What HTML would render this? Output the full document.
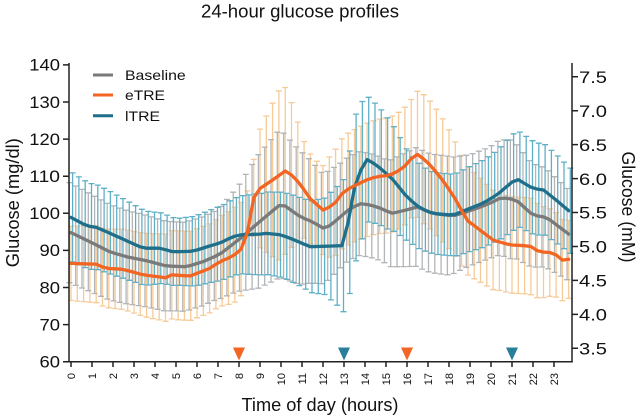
<!DOCTYPE html>
<html><head><meta charset="utf-8">
<style>
html,body{margin:0;padding:0;background:#fff}
svg{display:block}
text{font-family:"Liberation Sans",Arial,sans-serif;fill:#111}
</style></head>
<body>
<svg id="s" width="642" height="420" viewBox="0 0 642 420" xmlns="http://www.w3.org/2000/svg">
<rect width="642" height="420" fill="#fff"/>
<text x="300" y="17.5" font-size="18" text-anchor="middle" textLength="198" lengthAdjust="spacingAndGlyphs">24-hour glucose profiles</text>

<g id="bars"></g>
<g id="lines"></g>

<!-- axes -->
<g stroke="#222" stroke-width="1.5" fill="none">
<line x1="69" y1="63" x2="69" y2="362.4"/>
<line x1="68.3" y1="361.7" x2="572.7" y2="361.7"/>
<line x1="572" y1="63" x2="572" y2="362.4"/>
<!-- left ticks -->
<path d="M63 361.7H69M63 324.6H69M63 287.5H69M63 250.4H69M63 213.3H69M63 176.2H69M63 139.1H69M63 102H69M63 64.9H69"/>
<!-- right ticks -->
<path d="M572 348.3H578M572 314.4H578M572 280.4H578M572 246.5H578M572 212.5H578M572 178.6H578M572 144.6H578M572 110.7H578M572 76.7H578"/>
<!-- x ticks -->
<path d="M71 361.7V367M92 361.7V367M113 361.7V367M134 361.7V367M155 361.7V367M176 361.7V367M197 361.7V367M218 361.7V367M239 361.7V367M260 361.7V367M281 361.7V367M302 361.7V367M323 361.7V367M344 361.7V367M365 361.7V367M386 361.7V367M407 361.7V367M428 361.7V367M449 361.7V367M470 361.7V367M491 361.7V367M512 361.7V367M533 361.7V367M554 361.7V367"/>
</g>

<!-- left tick labels -->
<g font-size="17" text-anchor="end">
<text x="60" y="367.5" textLength="20.5" lengthAdjust="spacingAndGlyphs">60</text>
<text x="60" y="330.4" textLength="20.5" lengthAdjust="spacingAndGlyphs">70</text>
<text x="60" y="293.3" textLength="20.5" lengthAdjust="spacingAndGlyphs">80</text>
<text x="60" y="256.2" textLength="20.5" lengthAdjust="spacingAndGlyphs">90</text>
<text x="60" y="219.1" textLength="30.7" lengthAdjust="spacingAndGlyphs">100</text>
<text x="60" y="182" textLength="30.7" lengthAdjust="spacingAndGlyphs">110</text>
<text x="60" y="144.9" textLength="30.7" lengthAdjust="spacingAndGlyphs">120</text>
<text x="60" y="107.8" textLength="30.7" lengthAdjust="spacingAndGlyphs">130</text>
<text x="60" y="70.7" textLength="30.7" lengthAdjust="spacingAndGlyphs">140</text>
</g>

<!-- right tick labels -->
<g font-size="17">
<text x="579" y="354.5" textLength="28" lengthAdjust="spacingAndGlyphs">3.5</text>
<text x="579" y="320.6" textLength="28" lengthAdjust="spacingAndGlyphs">4.0</text>
<text x="579" y="286.6" textLength="28" lengthAdjust="spacingAndGlyphs">4.5</text>
<text x="579" y="252.7" textLength="28" lengthAdjust="spacingAndGlyphs">5.0</text>
<text x="579" y="218.7" textLength="28" lengthAdjust="spacingAndGlyphs">5.5</text>
<text x="579" y="184.8" textLength="28" lengthAdjust="spacingAndGlyphs">6.0</text>
<text x="579" y="150.8" textLength="28" lengthAdjust="spacingAndGlyphs">6.5</text>
<text x="579" y="116.9" textLength="28" lengthAdjust="spacingAndGlyphs">7.0</text>
<text x="579" y="82.9" textLength="28" lengthAdjust="spacingAndGlyphs">7.5</text>
</g>

<!-- x tick labels (rotated) -->
<g font-size="11" text-anchor="end">
<text transform="translate(75,373) rotate(-90)">0</text>
<text transform="translate(96,373) rotate(-90)">1</text>
<text transform="translate(117,373) rotate(-90)">2</text>
<text transform="translate(138,373) rotate(-90)">3</text>
<text transform="translate(159,373) rotate(-90)">4</text>
<text transform="translate(180,373) rotate(-90)">5</text>
<text transform="translate(201,373) rotate(-90)">6</text>
<text transform="translate(222,373) rotate(-90)">7</text>
<text transform="translate(243,373) rotate(-90)">8</text>
<text transform="translate(264,373) rotate(-90)">9</text>
<text transform="translate(285,373) rotate(-90)">10</text>
<text transform="translate(306,373) rotate(-90)">11</text>
<text transform="translate(327,373) rotate(-90)">12</text>
<text transform="translate(348,373) rotate(-90)">13</text>
<text transform="translate(369,373) rotate(-90)">14</text>
<text transform="translate(390,373) rotate(-90)">15</text>
<text transform="translate(411,373) rotate(-90)">16</text>
<text transform="translate(432,373) rotate(-90)">17</text>
<text transform="translate(453,373) rotate(-90)">18</text>
<text transform="translate(474,373) rotate(-90)">19</text>
<text transform="translate(495,373) rotate(-90)">20</text>
<text transform="translate(516,373) rotate(-90)">21</text>
<text transform="translate(537,373) rotate(-90)">22</text>
<text transform="translate(558,373) rotate(-90)">23</text>
</g>

<!-- axis titles -->
<text x="320" y="411" font-size="18" text-anchor="middle" textLength="157" lengthAdjust="spacingAndGlyphs">Time of day (hours)</text>
<text transform="translate(19,202.7) rotate(-90)" font-size="18" text-anchor="middle" textLength="129" lengthAdjust="spacingAndGlyphs">Glucose (mg/dl)</text>
<text transform="translate(622,207) rotate(90)" font-size="18" text-anchor="middle" textLength="111" lengthAdjust="spacingAndGlyphs">Glucose (mM)</text>

<!-- meal markers -->
<polygon points="233,347.5 245,347.5 239,360.5" fill="#f26522"/>
<polygon points="338,347.5 350,347.5 344,360.5" fill="#2a7f9a"/>
<polygon points="401,347.5 413,347.5 407,360.5" fill="#f26522"/>
<polygon points="506,347.5 518,347.5 512,360.5" fill="#2a7f9a"/>

<!-- legend -->
<line x1="93" y1="75" x2="113" y2="75" stroke="#7a7a7a" stroke-width="3"/>
<line x1="93" y1="95" x2="113" y2="95" stroke="#f26522" stroke-width="3"/>
<line x1="93" y1="115.7" x2="113" y2="115.7" stroke="#1f6f8b" stroke-width="3"/>
<text x="125" y="80" font-size="14" textLength="60.7" lengthAdjust="spacingAndGlyphs">Baseline</text>
<text x="125" y="100" font-size="14" textLength="40" lengthAdjust="spacingAndGlyphs">eTRE</text>
<text x="125" y="121" font-size="14" textLength="35" lengthAdjust="spacingAndGlyphs">lTRE</text>
</svg>

<script>
(function(){
var NS="http://www.w3.org/2000/svg";
function ip(p,h){if(h<=p[0][0])return p[0][1];for(var i=0;i<p.length-1;i++){if(h<=p[i+1][0]){var t=(h-p[i][0])/(p[i+1][0]-p[i][0]);return p[i][1]+t*(p[i+1][1]-p[i][1]);}}return p[p.length-1][1];}
function X(h){return 71+21*h;}
function Y(v){return 361.7-(v-60)*3.709;}

var grayM=[[0,94.8],[1.06,91.9],[1.86,89.6],[2.65,88.3],[3.6,87.2],[4.56,85.8],[5.5,85.6],[6.3,87],[7.1,89],[8.05,93.2],[9.16,98.6],[10.03,102.7],[10.9,99.1],[11.5,97.7],[12.1,95.7],[12.65,98.2],[13.29,101.3],[13.84,102.7],[14.56,101.8],[15.27,100],[15.67,100.5],[16.5,101.7],[17.2,100],[18.2,99.3],[19.1,100.9],[19.95,102.7],[20.5,104.3],[21.2,103.6],[22.0,99.5],[22.65,98.9],[23.7,94.4]];
var grayS=[[0,13.5],[3,12.5],[5,12],[7,12],[8,14],[9,18],[10,20],[11,18],[12,15],[13,14],[15,14],[16.5,16],[18,16],[19,15],[20,15],[21,16],[22,14],[23.7,12.3]];

var orM=[[0,86.5],[1.22,86.3],[1.62,85.2],[2.49,84.9],[3.44,83.4],[4.56,82.6],[4.8,83.4],[5.67,83.1],[6.62,85.2],[7.1,87],[7.57,88.1],[8.05,89.7],[8.3,93],[8.52,97],[8.68,104],[9.0,106.7],[9.6,109],[10.27,111.7],[10.9,108],[11.38,104],[12.0,100.9],[12.5,102.2],[12.97,105.8],[13.4,107.2],[14.08,109],[14.56,109.9],[15.2,110.3],[15.8,112.1],[16.3,115.4],[16.54,116],[17.1,113],[17.57,109.9],[18.2,104.9],[18.84,98.2],[19.48,95.5],[20.1,92.8],[20.9,91.5],[21.86,91.2],[22.3,89.6],[22.97,89.4],[23.4,87.4],[23.7,87.6]];
var orS=[[0,10],[3,11],[5,12],[7,12],[8,13],[8.68,10],[9.0,16],[9.5,20],[10.0,23.5],[10.3,22],[10.7,17],[11.1,13],[11.6,11.5],[12.0,12],[12.4,14],[13,15],[15,15.5],[16.3,16],[16.6,17.5],[17.5,17],[18.5,15],[19.5,14],[20.5,13],[22,13],[23.7,10.5]];

var blM=[[0,98.9],[0.75,96.6],[1.22,96.2],[1.86,94.6],[2.65,92.6],[3.44,90.6],[4.24,90.6],[4.87,89.6],[5.82,89.8],[6.6,91.2],[7.1,92],[7.7,93.7],[8.05,94.2],[9.0,94.4],[9.3,94.6],[10.0,94.2],[10.43,93.3],[11.38,91],[12.97,91.3],[13.1,93.7],[13.4,105.4],[14.0,114.8],[14.56,113],[15.35,109],[15.98,104.5],[16.6,101.5],[17.2,100],[18.2,99.5],[18.8,100.9],[19.6,102.7],[20.27,104.9],[21.2,109.4],[22.0,106.7],[22.5,106.3],[23.1,103.6],[23.7,100.7]];
var blS=[[0,12],[2,11],[5,9],[7,10],[9,11],[11,12],[12,13],[12.6,16],[13.1,19],[13.6,20],[14,17],[15,15],[16,12],[17,11],[18,11],[19,11.5],[20,12],[21,13],[22,12.5],[23.7,11.5]];

function bars(M,S,off,col){
  var d="";
  for(var i=0;i<80;i++){
    var h=i*0.3, m=ip(M,h), s=ip(S,h), x=(X(h)+off).toFixed(1);
    var y1=Y(m+s).toFixed(1), y2=Y(m-s).toFixed(1), xl=(X(h)+off-3).toFixed(1), xr=(X(h)+off+3).toFixed(1);
    d+="M"+x+" "+y1+"V"+y2+"M"+xl+" "+y1+"H"+xr+"M"+xl+" "+y2+"H"+xr;
  }
  var p=document.createElementNS(NS,"path");
  p.setAttribute("d",d);p.setAttribute("stroke",col);p.setAttribute("stroke-width","1.3");p.setAttribute("fill","none");
  document.getElementById("bars").appendChild(p);
}
function line(M,off,col){
  var pts=[];
  for(var i=0;i<80;i++){var h=i*0.3;pts.push((X(h)+off).toFixed(1)+","+Y(ip(M,h)).toFixed(1));}
  var p=document.createElementNS(NS,"polyline");
  p.setAttribute("points",pts.join(" "));p.setAttribute("stroke",col);p.setAttribute("stroke-width","3.3");
  p.setAttribute("fill","none");p.setAttribute("stroke-linejoin","round");p.setAttribute("stroke-linecap","round");
  document.getElementById("lines").appendChild(p);
}
bars(orM,orS,0,"#f6cb98");
bars(grayM,grayS,-1.6,"#b2b5b8");
bars(blM,blS,1.6,"#5fb0c7");
line(grayM,0,"#7a7a7a");
line(blM,0,"#1f6f8b");
line(orM,0,"#f26522");
})();
</script>
</body></html>
